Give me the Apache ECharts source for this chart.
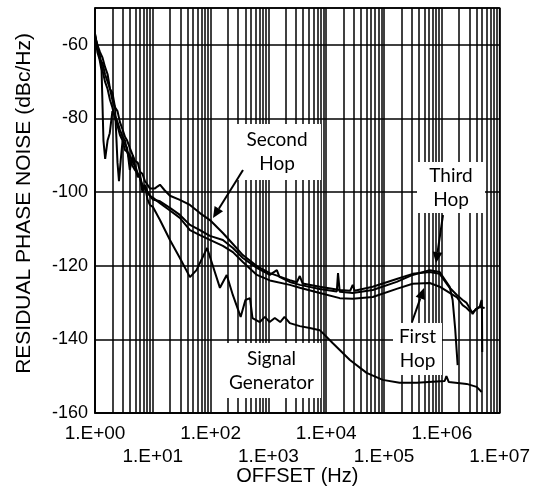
<!DOCTYPE html>
<html>
<head>
<meta charset="utf-8">
<script src="https://cdn.jsdelivr.net/npm/echarts@6/dist/echarts.min.js"></script>
<style>html,body{margin:0;padding:0;background:#fff;}#c{width:533px;height:498px;}</style>
</head>
<body>
<div id="c"></div>
<script>
// ---- data (offset Hz, residual phase noise dBc/Hz) ----
const firstHopF = [1,1.1,1.2,1.3,1.4,1.5,1.65,1.8,2.0,2.2,2.45,2.7,3.0,3.3,3.6,4.0,4.5,5.0,5.5,6.0,6.6,7.3,8.1,8.9,10,13.3,19.8,29.4,43.9,65.3,97.3,163,243,361,631,1059,2344,3491,7745,17140,28770,63830,165600,313300,616600,918300,1.368e6,1.803e6,2.291e6,2.685e6,3.027e6,3.412e6,3.846e6,4.508e6,4.875e6,4.95e6,5.0e6];
const firstHopV = [-57,-62,-64,-67,-86,-91,-86,-84,-78,-79,-81,-83,-85,-86,-89,-90,-92,-93,-95,-96,-98,-99,-100,-101,-101.5,-103,-105,-107,-110.3,-111.7,-113,-114.6,-116.3,-119,-122.5,-124,-125.2,-126,-127.4,-128.8,-129,-128.5,-126.3,-124.9,-124.7,-125.7,-127.4,-128.5,-130.7,-131.5,-132.3,-132.6,-132,-131.2,-129.3,-132,-143.4];

const secondHopF = [1,1.1,1.22,1.35,1.49,1.65,1.82,2.0,2.22,2.45,2.7,3.0,3.3,3.6,4.0,4.5,4.9,5.5,6.0,6.6,7.3,8.1,8.9,10,10.9,12,13.3,14.4,16,19.8,29.4,43.9,65.3,97.3,163,243,361,631,1059,2344,3100,3491,3900,7745,17140,26000,28770,31000,63830,165600,313300,616600,918300,1.368e6,1.803e6,2.291e6,2.685e6,3.027e6,3.412e6,3.846e6,4.508e6,5.5e6];
const secondHopV = [-57.5,-60,-62,-63.5,-66,-68,-72,-73,-77,-78,-81,-83,-85,-86,-88,-90,-91.5,-92,-94.5,-95,-97,-98,-99,-99,-99,-98.5,-98,-97.5,-99.5,-101,-102.1,-103.5,-105.7,-107.6,-111.1,-114.1,-117.1,-120.1,-122,-123.9,-124.5,-122.8,-124.8,-125.7,-126.6,-126.8,-125.2,-126.8,-125.7,-123.6,-122.2,-121.7,-122.2,-126,-127.9,-129.3,-130.1,-131.5,-133.1,-131.8,-131.2,-131.5];

const thirdHopF = [1,1.1,1.22,1.35,1.49,1.65,1.82,2.0,2.22,2.45,2.6,2.8,3.0,3.3,3.6,4.0,4.5,4.9,5.5,6.0,6.6,7.3,8.1,8.9,10,13.3,19.8,29.4,43.9,65.3,97.3,163,243,361,631,1059,1400,1550,2344,3491,7745,15240,16000,17140,28770,63830,165600,313300,616600,918300,1.368e6,1.538e6,1.7e6,1.879e6];
const thirdHopV = [-58,-60,-64,-65,-68,-70,-72,-75,-77,-92,-97,-91,-86,-87,-88,-94,-90,-93,-96,-95,-100,-98,-100,-101,-102,-102.5,-104.3,-106.2,-108.9,-110.3,-111.9,-113,-115.2,-117.9,-120.6,-122.5,-121.2,-123,-124.4,-125.2,-126.3,-127,-122,-127.1,-127.4,-126.6,-124.4,-122.5,-121.2,-121.7,-125.7,-129.3,-137,-147];

const sigGenF = [1,1.1,1.22,1.35,1.49,1.65,1.82,2.0,2.22,2.45,2.7,3.0,3.3,3.6,4.0,4.5,4.9,5.5,6.0,6.6,7.3,8.1,8.9,10,13.3,19.8,29.4,43.9,57,87,145,190,243,331,400,480,530,710,870,1050,1290,1600,1900,2344,3491,5200,7745,12900,25700,50000,95000,186000,370000,1.12e6,1.2e6,1.32e6,2.69e6,4.0e6,4.9e6];
const sigGenV = [-57,-61,-63,-67,-70,-72,-75,-77,-80,-82,-84.5,-86,-88.6,-89,-91.3,-93,-94,-95,-96.2,-99,-98.1,-102,-103.5,-104,-107.6,-113,-117.9,-123.1,-121.2,-115.2,-126,-122.5,-128,-133.9,-129.3,-128.8,-134.2,-135.3,-133.9,-135.3,-134.2,-135.3,-133.9,-135.6,-136.4,-136.9,-137.5,-141,-145.6,-149.1,-151,-151.8,-151.8,-151.3,-150,-151.6,-152.1,-152.9,-154.3];

const xTickExps = [0,1,2,3,4,5,6,7];
const yTicks = [-160,-140,-120,-100,-80,-60];
const minorMultipliers = [2,3,4,5,6,7,8,9];

function zip(f, v){ return f.map((x,i)=>[x, v[i]]); }

const gridMarks = [];
for (let e = 0; e < 7; e++) {
  minorMultipliers.forEach(m => gridMarks.push({ xAxis: m * Math.pow(10, e) }));
}

const chart = echarts.init(document.getElementById('c'), null, { renderer: 'canvas' });
const FONT = 'Arial';
const NOTE = 'Lato';

function expLabel(parity) {
  return function (v) {
    const e = Math.round(Math.log10(v));
    if (xTickExps.indexOf(e) < 0 || e % 2 !== parity) return '';
    return '1.E+' + (e < 10 ? '0' : '') + e;
  };
}

function lineSeries(name, data, extra) {
  return Object.assign({
    name, type: 'line', data, symbol: 'none', showSymbol: false,
    lineStyle: { color: '#000', width: 2 }, animation: false, z: 5
  }, extra || {});
}

function arrow(x1, y1, x2, y2) {
  const ang = Math.atan2(y2 - y1, x2 - x1);
  const L = 11, W = 5;
  const bx = x2 - L * Math.cos(ang), by = y2 - L * Math.sin(ang);
  const px = -Math.sin(ang) * W, py = Math.cos(ang) * W;
  return [
    { type: 'line', z: 100, shape: { x1, y1, x2: bx, y2: by }, style: { stroke: '#000', lineWidth: 2 } },
    { type: 'polygon', z: 100, shape: { points: [[x2, y2], [bx + px, by + py], [bx - px, by - py]] }, style: { fill: '#000' } }
  ];
}

function note(x, y, w, h, lines) {
  const els = [{ type: 'rect', z: 90, shape: { x, y, width: w, height: h }, style: { fill: '#fff' } }];
  const lh = 24;
  const cy0 = y + h / 2 - (lines.length - 1) * lh / 2;
  lines.forEach((t, i) => els.push({
    type: 'text', z: 95, x: x + w / 2, y: cy0 + i * lh,
    style: { text: t, fill: '#000', fontSize: 19, fontFamily: NOTE, align: 'center', verticalAlign: 'middle' }
  }));
  return els;
}

const graphics = [].concat(
  note(233, 124, 88, 56, ['Second', 'Hop']),
  note(417, 162, 68, 51, ['Third', 'Hop']),
  note(393, 323, 49, 52, ['First', 'Hop']),
  note(222, 343, 99, 55, ['Signal', 'Generator']),
  arrow(243, 170, 213, 218),
  arrow(443, 215, 436, 263),
  arrow(412, 322, 424, 288)
);

const xLabelBase = { color: '#000', fontSize: 19, fontFamily: FONT, interval: 0, showMinLabel: true, showMaxLabel: true };

chart.setOption({
  animation: false,
  backgroundColor: '#fff',
  textStyle: { fontFamily: FONT },
  grid: { left: 95, right: 33, top: 8, bottom: 85, show: true, borderColor: '#000', borderWidth: 1.5, backgroundColor: 'transparent' },
  xAxis: [{
    type: 'log', logBase: 10, min: 1, max: 1e7, splitNumber: 7,
    name: 'OFFSET (Hz)', nameLocation: 'middle', nameGap: 53,
    nameTextStyle: { color: '#000', fontSize: 20, fontFamily: FONT },
    axisLine: { show: true, lineStyle: { color: '#000', width: 1.5 } },
    axisTick: { show: false },
    splitLine: { show: true, lineStyle: { color: '#000', width: 1.5 } },
    axisLabel: Object.assign({ margin: 11, formatter: expLabel(0) }, xLabelBase)
  }, {
    type: 'log', logBase: 10, min: 1, max: 1e7, splitNumber: 7,
    position: 'bottom', offset: 0,
    axisLine: { show: false }, axisTick: { show: false }, splitLine: { show: false },
    axisLabel: Object.assign({ margin: 34, formatter: expLabel(1) }, xLabelBase)
  }],
  yAxis: {
    type: 'value', min: -160, max: -50, interval: 20,
    name: 'RESIDUAL PHASE NOISE (dBc/Hz)', nameLocation: 'middle', nameGap: 60,
    nameTextStyle: { color: '#000', fontSize: 21, fontFamily: FONT, padding: [0, 0, 0, 14] },
    axisLine: { show: true, lineStyle: { color: '#000', width: 1.5 } },
    axisTick: { show: false },
    splitLine: { show: true, lineStyle: { color: '#000', width: 1.5 } },
    axisLabel: {
      color: '#000', fontSize: 18, fontFamily: FONT, margin: 7,
      showMinLabel: true,
      formatter: function (v) { return yTicks.indexOf(v) >= 0 ? String(v) : ''; }
    }
  },
  series: [
    lineSeries('Signal Generator', zip(sigGenF, sigGenV), {
      markLine: {
        silent: true, symbol: ['none', 'none'], label: { show: false }, animation: false,
        lineStyle: { color: '#000', width: 1.5, type: 'solid' },
        emphasis: { disabled: true },
        data: gridMarks
      }
    }),
    lineSeries('First Hop', zip(firstHopF, firstHopV)),
    lineSeries('Second Hop', zip(secondHopF, secondHopV)),
    lineSeries('Third Hop', zip(thirdHopF, thirdHopV))
  ],
  graphic: graphics
});
</script>
</body>
</html>
